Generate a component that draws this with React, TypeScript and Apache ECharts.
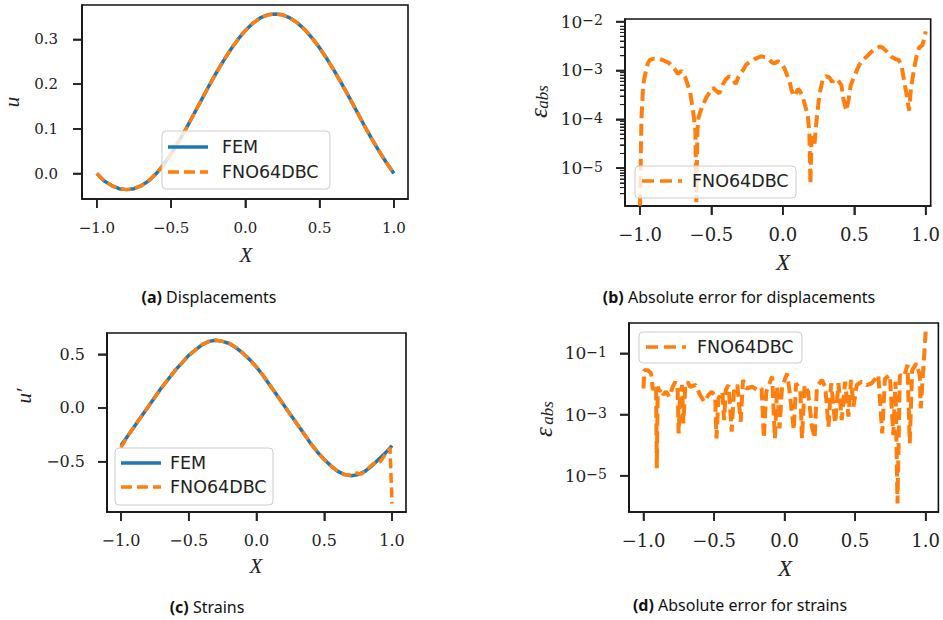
import React, { useEffect, useRef } from 'react';
import * as echarts from 'echarts';

// ---------- data ----------
const X_TICKS = [-1, -0.5, 0, 0.5, 1];
const U_TICKS = [0, 0.1, 0.2, 0.3];
const DU_TICKS = [-0.5, 0, 0.5];
const ERR_DISP_TICKS = [1e-5, 1e-4, 1e-3, 1e-2];
const ERR_STRAIN_TICKS = [1e-5, 1e-3, 1e-1];

const X_GRID = [-1, -0.95, -0.9, -0.85, -0.8, -0.75, -0.7, -0.65, -0.6, -0.55, -0.5, -0.45, -0.4, -0.35, -0.3, -0.25, -0.2, -0.15, -0.1, -0.05, 0, 0.05, 0.1, 0.15, 0.2, 0.25, 0.3, 0.35, 0.4, 0.45, 0.5, 0.55, 0.6, 0.65, 0.7, 0.75, 0.8, 0.85, 0.9, 0.95, 1];

const U_FEM = [0.000, -0.017, -0.027, -0.034, -0.036, -0.034, -0.027, -0.016, 0.000, 0.020, 0.044, 0.071, 0.100, 0.131, 0.162, 0.193, 0.223, 0.251, 0.277, 0.300, 0.320, 0.336, 0.348, 0.355, 0.357, 0.355, 0.348, 0.337, 0.322, 0.303, 0.281, 0.256, 0.229, 0.200, 0.170, 0.139, 0.108, 0.078, 0.050, 0.024, 0.000];
const U_FNO = [0.000, -0.017, -0.027, -0.034, -0.036, -0.034, -0.027, -0.016, 0.000, 0.020, 0.044, 0.071, 0.100, 0.131, 0.162, 0.193, 0.223, 0.251, 0.277, 0.300, 0.320, 0.336, 0.348, 0.355, 0.357, 0.355, 0.348, 0.337, 0.322, 0.303, 0.281, 0.256, 0.229, 0.200, 0.170, 0.139, 0.108, 0.078, 0.050, 0.024, 0.000];

const DU_FEM = [-0.35, -0.26, -0.17, -0.08, 0.01, 0.10, 0.19, 0.27, 0.35, 0.42, 0.49, 0.54, 0.59, 0.62, 0.63, 0.62, 0.60, 0.56, 0.51, 0.45, 0.38, 0.30, 0.21, 0.12, 0.03, -0.06, -0.15, -0.24, -0.33, -0.41, -0.48, -0.54, -0.59, -0.62, -0.63, -0.62, -0.59, -0.54, -0.48, -0.42, -0.35];

const DU_FNO_X = [-1, -0.95, -0.9, -0.85, -0.8, -0.75, -0.7, -0.65, -0.6, -0.55, -0.5, -0.45, -0.4, -0.35, -0.3, -0.25, -0.2, -0.15, -0.1, -0.05, 0, 0.05, 0.1, 0.15, 0.2, 0.25, 0.3, 0.35, 0.4, 0.45, 0.5, 0.55, 0.6, 0.65, 0.7, 0.72, 0.74, 0.76, 0.78, 0.8, 0.83, 0.86, 0.88, 0.9, 0.92, 0.95, 0.97, 0.985, 1];
const DU_FNO_Y = [-0.37, -0.26, -0.17, -0.08, 0.01, 0.10, 0.19, 0.27, 0.35, 0.42, 0.49, 0.54, 0.59, 0.62, 0.63, 0.62, 0.60, 0.56, 0.51, 0.45, 0.38, 0.30, 0.21, 0.12, 0.03, -0.06, -0.15, -0.24, -0.33, -0.41, -0.48, -0.54, -0.59, -0.62, -0.625, -0.61, -0.605, -0.615, -0.61, -0.585, -0.555, -0.52, -0.51, -0.52, -0.49, -0.43, -0.40, -0.37, -0.89];

const ERR_DISP_X = [-1.0, -0.99, -0.978, -0.965, -0.945, -0.93, -0.9, -0.872, -0.835, -0.8, -0.775, -0.756, -0.735, -0.71, -0.685, -0.665, -0.65, -0.628, -0.612, -0.606, -0.598, -0.59, -0.575, -0.558, -0.535, -0.51, -0.49, -0.465, -0.445, -0.42, -0.4, -0.375, -0.35, -0.33, -0.31, -0.28, -0.256, -0.23, -0.198, -0.17, -0.151, -0.12, -0.093, -0.075, -0.058, -0.035, -0.01, 0.012, 0.03, 0.047, 0.06, 0.075, 0.09, 0.105, 0.12, 0.14, 0.158, 0.174, 0.186, 0.193, 0.2, 0.21, 0.222, 0.235, 0.256, 0.279, 0.302, 0.326, 0.345, 0.36, 0.375, 0.39, 0.41, 0.425, 0.445, 0.46, 0.475, 0.5, 0.535, 0.565, 0.593, 0.62, 0.65, 0.68, 0.7, 0.73, 0.76, 0.79, 0.81, 0.83, 0.85, 0.87, 0.884, 0.895, 0.905, 0.919, 0.935, 0.953, 0.977, 0.99, 1.0];
const ERR_DISP_Y = [1.7e-6, 1.0e-4, 5.0e-4, 8.1e-4, 1.4e-3, 1.66e-3, 1.75e-3, 1.75e-3, 1.6e-3, 1.45e-3, 1.2e-3, 1.05e-3, 8.5e-4, 9.8e-4, 7.5e-4, 5.0e-4, 3.7e-4, 1.45e-4, 6.0e-5, 2.0e-6, 6.0e-5, 1.1e-4, 1.5e-4, 2.0e-4, 2.8e-4, 3.7e-4, 4.4e-4, 3.8e-4, 3.4e-4, 5.2e-4, 6.5e-4, 7.6e-4, 6.5e-4, 5.3e-4, 7.5e-4, 1.0e-3, 1.32e-3, 1.5e-3, 1.7e-3, 1.85e-3, 1.95e-3, 1.85e-3, 1.66e-3, 1.45e-3, 1.4e-3, 1.55e-3, 1.4e-3, 1.1e-3, 8.0e-4, 6.0e-4, 4.0e-4, 3.0e-4, 3.2e-4, 4.2e-4, 3.8e-4, 2.8e-4, 1.8e-4, 1.26e-4, 5.0e-5, 4.7e-6, 3.5e-5, 4.5e-5, 3.2e-5, 9.0e-5, 3.2e-4, 6.5e-4, 7.6e-4, 7.2e-4, 5.8e-4, 6.5e-4, 6.8e-4, 6.0e-4, 5.0e-4, 2.5e-4, 1.5e-4, 2.5e-4, 5.0e-4, 7.6e-4, 1.3e-3, 1.7e-3, 2.0e-3, 2.4e-3, 2.8e-3, 3.1e-3, 2.9e-3, 2.4e-3, 1.9e-3, 1.7e-3, 1.65e-3, 1.3e-3, 6.0e-4, 2.8e-4, 1.5e-4, 3.7e-4, 6.0e-4, 1.1e-3, 1.9e-3, 2.9e-3, 3.3e-3, 4.5e-3, 6.3e-3];

const ERR_STRAIN_X = [-1.0, -0.995, -0.969, -0.946, -0.934, -0.922, -0.911, -0.906, -0.899, -0.887, -0.875, -0.859, -0.84, -0.817, -0.793, -0.774, -0.758, -0.751, -0.741, -0.727, -0.718, -0.704, -0.687, -0.671, -0.629, -0.6, -0.57, -0.539, -0.516, -0.492, -0.483, -0.469, -0.441, -0.429, -0.417, -0.398, -0.375, -0.358, -0.335, -0.311, -0.295, -0.271, -0.229, -0.194, -0.163, -0.147, -0.13, -0.088, -0.069, -0.053, -0.036, -0.018, 0.018, 0.034, 0.065, 0.081, 0.112, 0.123, 0.142, 0.166, 0.194, 0.213, 0.229, 0.264, 0.288, 0.311, 0.33, 0.358, 0.382, 0.405, 0.429, 0.452, 0.471, 0.488, 0.511, 0.546, 0.581, 0.617, 0.664, 0.692, 0.711, 0.746, 0.77, 0.786, 0.8, 0.817, 0.847, 0.871, 0.887, 0.904, 0.934, 0.958, 0.965, 0.981, 1.0];
const ERR_STRAIN_Y = [7.1e-3, 2.8e-2, 2.8e-2, 2.2e-2, 6.3e-3, 9.2e-3, 8.1e-3, 1.74e-5, 8.1e-3, 5.6e-3, 7.1e-3, 4.4e-3, 5.6e-3, 3.8e-3, 8.1e-3, 1.18e-2, 6.3e-3, 2.4e-4, 3.8e-3, 9.2e-3, 5.1e-4, 8.1e-3, 1.18e-2, 8.1e-3, 9.2e-3, 4.4e-3, 2.6e-3, 4.4e-3, 5.6e-3, 3.8e-3, 1.66e-4, 3.4e-3, 5.6e-3, 6.6e-4, 6.3e-3, 9.2e-3, 2.75e-4, 7.1e-3, 9.2e-3, 5.8e-4, 1.35e-2, 7.1e-3, 8.1e-3, 6.3e-3, 7.1e-3, 1.66e-4, 5.6e-3, 1.74e-2, 1.66e-4, 8.1e-3, 3.5e-4, 8.1e-3, 2.2e-2, 6.3e-3, 3.1e-4, 1.05e-2, 6.3e-3, 1.66e-4, 9.2e-3, 5.6e-3, 4.0e-4, 1.66e-4, 8.1e-3, 1.35e-2, 8.1e-3, 4.0e-4, 1.05e-2, 5.1e-4, 1.05e-2, 6.6e-4, 1.18e-2, 8.5e-4, 1.35e-2, 1.8e-3, 9.2e-3, 1.18e-2, 9.2e-3, 1.05e-2, 1.95e-2, 2.4e-4, 1.5e-2, 1.95e-2, 2.1e-4, 1.18e-2, 1.23e-6, 1.95e-2, 1.7e-2, 4.2e-2, 1.15e-4, 2.8e-2, 4.7e-2, 1.95e-2, 1.6e-3, 2.2e-2, 0.51];

// ---------- axis extents (from the plot frames) ----------
const EXT = [
  { x: [-1.1, 1.095], y: [-0.057, 0.377] },
  { x: [-1.105, 1.035], y: [1.68e-6, 1.13e-2] },
  { x: [-1.103, 1.103], y: [-0.968, 0.698] },
  { x: [-1.103, 1.09], y: [6.5e-7, 0.98] },
];

// ---------- layout ----------
const GRIDS = [
  { left: 82, top: 5, width: 326, height: 194 },
  { left: 625, top: 19, width: 307, height: 187 },
  { left: 107, top: 333, width: 299, height: 179 },
  { left: 629, top: 323, width: 312, height: 189 },
];

// ---------- style ----------
const BLUE = '#1f77b4';
const ORANGE = '#ff7f0e';
const INK = '#222222';
const SERIF = 'DejaVu Serif';
const ITALIC_SERIF = 'Liberation Serif';
const SANS = 'DejaVu Sans';
const CAPTION_FONT = 'Noto Sans';
const TICK_LEN = 9;
const TICK_W = 1.6;

const pairs = (xs: number[], ys: number[]) => xs.map((x, i) => [x, ys[i]]);
const linFmt = (v: number) => (v < 0 ? '\u2212' : '') + Math.abs(v).toFixed(1);

function minorLogTicks(loExp: number, hiExp: number, lo: number, hi: number) {
  const out: number[] = [];
  for (let e = loExp; e <= hiExp; e++) {
    for (let m = 2; m <= 9; m++) {
      const v = m * Math.pow(10, e);
      if (v > lo && v < hi) out.push(v);
    }
  }
  return out;
}

const axLine = () => ({ show: true, onZero: false, lineStyle: { color: '#111', width: 1.6 } });
const majorTick = (vals: number[]) => ({ show: true, inside: false, customValues: vals, length: TICK_LEN, lineStyle: { color: INK, width: TICK_W } });

function xAxisCfg(grid: number, fs: number, lineH: number) {
  return {
    type: 'value', gridIndex: grid, min: EXT[grid].x[0], max: EXT[grid].x[1], position: 'bottom',
    axisLine: axLine(),
    splitLine: { show: false },
    axisTick: majorTick(X_TICKS),
    axisLabel: {
      customValues: X_TICKS, margin: 0, color: INK,
      formatter: (v: number) => `{t|}\n{v|${linFmt(v)}}`,
      rich: {
        t: { width: TICK_W, height: TICK_LEN, lineHeight: TICK_LEN, backgroundColor: INK },
        v: { fontFamily: SERIF, fontSize: fs, color: INK, lineHeight: lineH },
      },
    },
  };
}

function linYAxis(grid: number, ticks: number[], fs: number, gap: number) {
  return {
    type: 'value', gridIndex: grid, min: EXT[grid].y[0], max: EXT[grid].y[1], position: 'left',
    axisLine: axLine(),
    splitLine: { show: false },
    axisTick: majorTick(ticks),
    axisLabel: {
      customValues: ticks, margin: 0, color: INK,
      formatter: (v: number) => `{v|${linFmt(v)}}{sp|}{t|}`,
      rich: {
        v: { fontFamily: SERIF, fontSize: fs, color: INK },
        sp: { width: gap, height: 2 },
        t: { width: TICK_LEN, height: TICK_W, backgroundColor: INK, verticalAlign: 'middle' },
      },
    },
  };
}

function logYAxis(grid: number, ticks: number[], fs: number, gap: number) {
  const sfs = Math.round(fs * 0.8);
  return {
    type: 'log', logBase: 10, gridIndex: grid, min: EXT[grid].y[0], max: EXT[grid].y[1], position: 'left',
    axisLine: axLine(),
    splitLine: { show: false },
    minorTick: { show: false },
    axisTick: majorTick(ticks),
    axisLabel: {
      customValues: ticks, margin: 0, color: INK,
      formatter: (v: number) => {
        const e = Math.round(Math.log10(v));
        return `{b|10}{s|${e < 0 ? '\u2212' : ''}${Math.abs(e)}}{sp|}{t|}`;
      },
      rich: {
        b: { fontFamily: SERIF, fontSize: fs, color: INK, verticalAlign: 'bottom', lineHeight: fs },
        s: { fontFamily: SERIF, fontSize: sfs, color: INK, verticalAlign: 'top', lineHeight: sfs, padding: [0, 0, 7, 0] },
        sp: { width: gap, height: 2, verticalAlign: 'middle' },
        t: { width: TICK_LEN, height: TICK_W, backgroundColor: INK, verticalAlign: 'middle' },
      },
    },
  };
}

function minorLogAxis(grid: number) {
  const vals = minorLogTicks(-6, -3, EXT[grid].y[0], EXT[grid].y[1]);
  return {
    type: 'log', logBase: 10, gridIndex: grid, min: EXT[grid].y[0], max: EXT[grid].y[1], position: 'left',
    axisLine: { show: false, onZero: false }, splitLine: { show: false }, minorTick: { show: false },
    axisTick: { show: true, inside: false, customValues: vals, length: 5, lineStyle: { color: INK, width: 1 } },
    axisLabel: {
      customValues: vals, margin: 0,
      formatter: () => '{m|}',
      rich: { m: { width: 5, height: 1, backgroundColor: INK } },
    },
  };
}

function legend(x: number, y: number, w: number, h: number, rows: { name: string; color: string; dash: number[] | null; y: number }[], lineX: number, textX: number) {
  const els: any[] = [
    { type: 'rect', z: 100, shape: { x, y, width: w, height: h, r: 4 }, style: { fill: 'rgba(255,255,255,0.8)', stroke: '#cccccc', lineWidth: 1 } },
  ];
  rows.forEach((r) => {
    els.push({ type: 'line', z: 101, shape: { x1: lineX, y1: r.y, x2: lineX + 40, y2: r.y }, style: { stroke: r.color, lineWidth: 3.5, lineDash: r.dash || undefined } });
    els.push({ type: 'text', z: 101, x: textX, y: r.y, style: { text: r.name, fill: INK, fontFamily: SANS, fontSize: 17.5, align: 'left', verticalAlign: 'middle' } });
  });
  return els;
}

function axisTitle(text: string, x: number, y: number, fs: number, rotate: boolean) {
  return {
    type: 'text', z: 50, x, y, rotation: rotate ? Math.PI / 2 : 0,
    style: { text, fill: INK, fontFamily: ITALIC_SERIF, fontStyle: 'italic', fontSize: fs, align: 'center', verticalAlign: 'middle' },
  };
}

function epsTitle(xE: number, yE: number, xS: number, yS: number) {
  return [
    { type: 'text', z: 50, x: xE, y: yE, rotation: Math.PI / 2, style: { text: '\u03b5', fill: INK, fontFamily: ITALIC_SERIF, fontStyle: 'italic', fontSize: 25, align: 'center', verticalAlign: 'middle' } },
    { type: 'text', z: 50, x: xS, y: yS, rotation: Math.PI / 2, style: { text: 'abs', fill: INK, fontFamily: ITALIC_SERIF, fontStyle: 'italic', fontSize: 17, align: 'center', verticalAlign: 'middle' } },
  ];
}

function caption(tag: string, rest: string, x: number, y: number) {
  return {
    type: 'text', z: 50, x, y,
    style: {
      text: `{b|${tag}} ${rest}`, fill: '#111', fontFamily: CAPTION_FONT, fontSize: 16, align: 'center', verticalAlign: 'middle',
      rich: { b: { fontFamily: CAPTION_FONT, fontSize: 16, fontWeight: 'bold', fill: '#111' } },
    },
  };
}

// no clip path: every value lies inside its axis range, so nothing leaves the frame
const lineSeries = (name: string, grid: number, data: number[][], color: string, width: number, dash: number[] | null, z: number) => ({
  type: 'line', name, xAxisIndex: grid, yAxisIndex: grid, data, showSymbol: false, symbol: 'none',
  lineStyle: { color, width, type: dash || 'solid' }, z, clip: false,
});

export default function App() {
  const ref = useRef<HTMLDivElement>(null);

  useEffect(() => {
    if (!ref.current) return;
    const chart = echarts.init(ref.current, undefined, { renderer: 'svg' });

    const gridBase = { show: true, borderColor: '#111', borderWidth: 1.6, backgroundColor: 'transparent', containLabel: false };

    const graphics: any[] = [
      ...legend(162, 131, 168, 58, [
        { name: 'FEM', color: BLUE, dash: null, y: 147 },
        { name: 'FNO64DBC', color: ORANGE, dash: [11, 5], y: 172 },
      ], 168, 222),
      ...legend(635, 166, 161, 32, [
        { name: 'FNO64DBC', color: ORANGE, dash: [12, 6], y: 181 },
      ], 642, 692),
      ...legend(115, 448, 158, 57, [
        { name: 'FEM', color: BLUE, dash: null, y: 463 },
        { name: 'FNO64DBC', color: ORANGE, dash: [11, 5], y: 487 },
      ], 121, 170),
      ...legend(639, 332, 163, 31, [
        { name: 'FNO64DBC', color: ORANGE, dash: [12, 6], y: 347 },
      ], 646, 697),
      axisTitle('u', 12, 102, 21, true),
      axisTitle('X', 246, 255, 21, false),
      ...epsTitle(538, 113, 542, 97),
      axisTitle('X', 783, 262, 23, false),
      axisTitle('u\u2032', 24, 396, 21, true),
      axisTitle('X', 256, 566, 21, false),
      ...epsTitle(543, 432, 547, 413),
      axisTitle('X', 785, 568, 23, false),
      caption('(a)', 'Displacements', 209, 297),
      caption('(b)', 'Absolute error for displacements', 739, 297),
      caption('(c)', 'Strains', 207, 607),
      caption('(d)', 'Absolute error for strains', 740, 605),
    ];

    const option: any = {
      animation: false,
      backgroundColor: '#ffffff',
      grid: GRIDS.map((g) => ({ ...gridBase, ...g })),
      xAxis: [
        xAxisCfg(0, 15, 40),
        xAxisCfg(1, 18, 39),
        xAxisCfg(2, 16, 39),
        xAxisCfg(3, 18, 39),
      ],
      yAxis: [
        linYAxis(0, U_TICKS, 15, 15),
        logYAxis(1, ERR_DISP_TICKS, 17, 13),
        linYAxis(2, DU_TICKS, 16, 13),
        logYAxis(3, ERR_STRAIN_TICKS, 17, 13),
        minorLogAxis(1),
      ],
      series: [
        lineSeries('FEM', 0, pairs(X_GRID, U_FEM), BLUE, 3.5, null, 2),
        lineSeries('FNO64DBC', 0, pairs(X_GRID, U_FNO), ORANGE, 3.5, [10, 4.5], 3),
        lineSeries('FNO64DBC', 1, pairs(ERR_DISP_X, ERR_DISP_Y), ORANGE, 4, [12, 5.5], 3),
        lineSeries('FEM', 2, pairs(X_GRID, DU_FEM), BLUE, 3.5, null, 2),
        lineSeries('FNO64DBC', 2, pairs(DU_FNO_X, DU_FNO_Y), ORANGE, 3.5, [10, 4.5], 3),
        lineSeries('FNO64DBC', 3, pairs(ERR_STRAIN_X, ERR_STRAIN_Y), ORANGE, 4, [12, 5.5], 3),
      ],
      graphic: { elements: graphics },
    };

    chart.setOption(option);
    return () => chart.dispose();
  }, []);

  return <div ref={ref} style={{ position: 'fixed', left: 0, top: 0, width: 943, height: 620, background: '#fff' }} />;
}
